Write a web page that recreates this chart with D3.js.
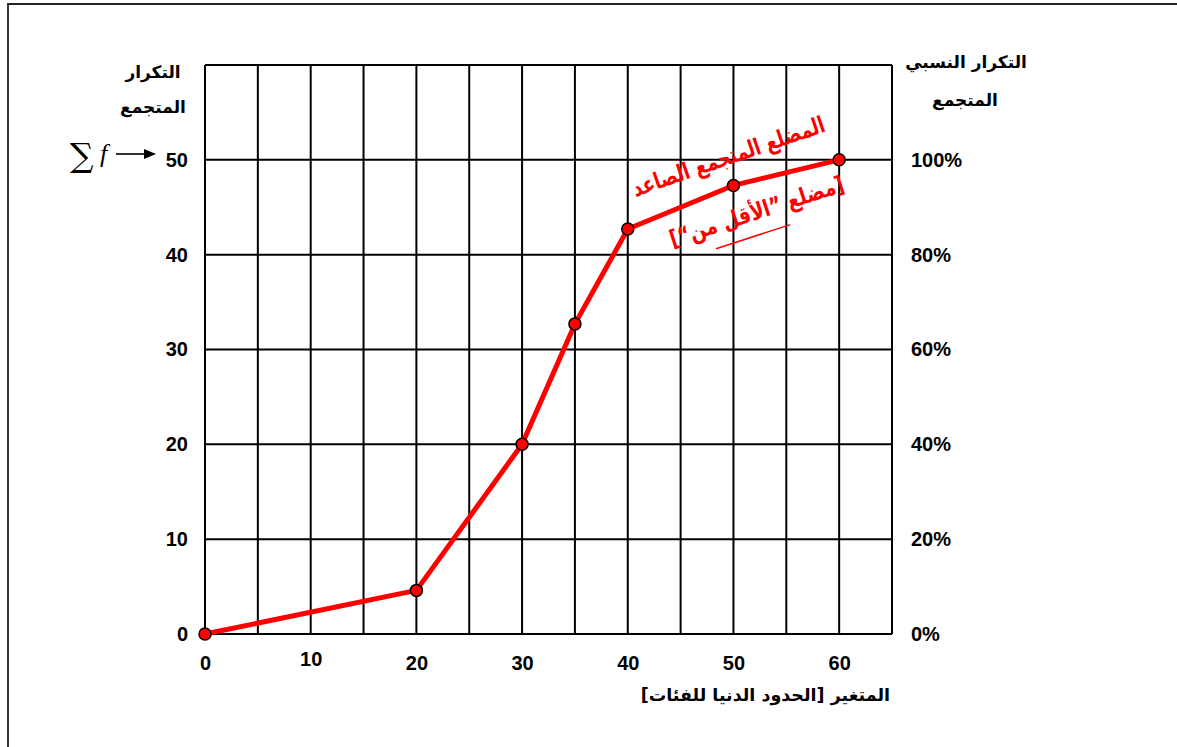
<!DOCTYPE html>
<html>
<head>
<meta charset="utf-8">
<script src="https://cdn.jsdelivr.net/npm/d3@7"></script>
<style>
  html, body { margin: 0; padding: 0; background: #fff; }
  svg { display: block; }
</style>
</head>
<body>
<svg id="chart" width="1177" height="747"></svg>
<script>
// ---- data ----
const lowerBounds = [0, 20, 30, 35, 40, 50, 60];          // x: lower class bounds
const cumFrequency = [0, 4.6, 20, 32.7, 42.7, 47.3, 50];   // y: cumulative frequency
const xTickLabels = [0, 10, 20, 30, 40, 50, 60];
const yTickLabels = [0, 10, 20, 30, 40, 50];
const pctTickLabels = [0, 20, 40, 60, 80, 100];
const totalF = 50;
const leftTitle = ["التكرار", "المتجمع"];
const rightTitle = ["التكرار النسبي", "المتجمع"];
const xTitle = "المتغير [الحدود الدنيا للفئات]";
const curveTitle = "المضلع المتجمع الصاعد";
const curveSubtitle = "[مضلع ”الأقل من“]";

const svg = d3.select("#chart");
const W = 1177, H = 747;

const x = d3.scaleLinear().domain([0, 65]).range([205, 892]);
const y = d3.scaleLinear().domain([0, 60]).range([634, 65]);
const pct = d3.scaleLinear().domain([0, 100]).range([y(0), y(totalF)]);

// outer frame (top + left visible)
svg.append("path")
  .attr("d", `M8,${H + 2} V4 H${W + 2}`)
  .attr("fill", "none").attr("stroke", "#222").attr("stroke-width", 1.8);

// grid
const grid = svg.append("g").attr("stroke", "#000").attr("stroke-width", 2);
grid.selectAll("line.v").data(d3.range(0, 66, 5)).join("line")
  .attr("class", "v")
  .attr("x1", d => x(d)).attr("x2", d => x(d))
  .attr("y1", y(60)).attr("y2", y(0));
grid.selectAll("line.h").data(d3.range(0, 61, 10)).join("line")
  .attr("class", "h")
  .attr("x1", x(0)).attr("x2", x(65))
  .attr("y1", d => y(d)).attr("y2", d => y(d));

const numFont = "'Liberation Sans', Arial, sans-serif";
const arFont = "'DejaVu Sans', sans-serif";

// left axis labels
const leftAxis = d3.axisLeft(y).tickValues(yTickLabels).tickSize(0).tickPadding(17);
const gl = svg.append("g").attr("transform", `translate(${x(0)},0)`).call(leftAxis);
gl.select(".domain").remove();
gl.selectAll("text").attr("font-family", numFont).attr("font-size", 20)
  .attr("font-weight", "bold").attr("fill", "#000");

// right axis labels (percent)
const rightAxis = d3.axisRight(pct).tickValues(pctTickLabels)
  .tickSize(0).tickPadding(19).tickFormat(d => d + "%");
const gr = svg.append("g").attr("transform", `translate(${x(65)},0)`).call(rightAxis);
gr.select(".domain").remove();
gr.selectAll("text").attr("font-family", numFont).attr("font-size", 20)
  .attr("font-weight", "bold").attr("fill", "#000");

// bottom axis labels
const bottomAxis = d3.axisBottom(x).tickValues(xTickLabels).tickSize(0).tickPadding(22);
const gb = svg.append("g").attr("transform", `translate(0,${y(0)})`).call(bottomAxis);
gb.select(".domain").remove();
gb.selectAll("text").attr("font-family", numFont).attr("font-size", 20)
  .attr("font-weight", "bold").attr("fill", "#000")
  .attr("dy", d => d === 10 ? "0.48em" : "0.71em");

// titles
const titles = svg.append("g").attr("font-family", arFont).attr("font-weight", "bold")
  .attr("font-size", 17).attr("fill", "#000").attr("text-anchor", "middle")
  .attr("direction", "rtl");
titles.selectAll("text.lt").data(leftTitle).join("text").attr("class", "lt")
  .attr("x", 153).attr("y", (d, i) => 78 + i * 35).text(d => d);
titles.selectAll("text.rt").data(rightTitle).join("text").attr("class", "rt")
  .attr("x", (d, i) => i ? 965 : 966).attr("y", (d, i) => 68 + i * 38).text(d => d);
titles.append("text").attr("x", 890).attr("y", 701).attr("text-anchor", "start")
  .attr("font-size", 17.5).text(xTitle);

// ∑f →
const sig = svg.append("g");
sig.append("text").attr("x", 70).attr("y", 167).attr("font-family", "'DejaVu Serif', serif")
  .attr("font-size", 33).text("∑");
sig.append("text").attr("x", 100).attr("y", 162).attr("font-family", "'Liberation Serif', serif")
  .attr("font-style", "italic").attr("font-size", 26).text("f");
sig.append("line").attr("x1", 116).attr("x2", 146).attr("y1", 154).attr("y2", 154)
  .attr("stroke", "#000").attr("stroke-width", 1.6);
sig.append("path").attr("d", "M144,149 L156,154 L144,159 Z").attr("fill", "#000");

// polygon line
const pts = lowerBounds.map((v, i) => [v, cumFrequency[i]]);
svg.append("path").datum(pts)
  .attr("d", d3.line().x(d => x(d[0])).y(d => y(d[1])))
  .attr("fill", "none").attr("stroke", "#ff0000").attr("stroke-width", 5)
  .attr("stroke-linejoin", "round");
svg.selectAll("circle.pt").data(pts).join("circle").attr("class", "pt")
  .attr("cx", d => x(d[0])).attr("cy", d => y(d[1])).attr("r", 6)
  .attr("fill", "#ff0000").attr("stroke", "#000").attr("stroke-width", 1.5);

// red annotation
const ann = svg.append("g").attr("fill", "#ff0000").attr("font-family", arFont)
  .attr("font-weight", "bold").attr("direction", "rtl").attr("text-anchor", "middle");
ann.append("text").attr("transform", "translate(731,164) rotate(-19)")
  .attr("font-size", 23).attr("textLength", 202).attr("lengthAdjust", "spacingAndGlyphs")
  .text(curveTitle);
const g2 = ann.append("g").attr("transform", "translate(759,219) rotate(-18)");
g2.append("text").attr("font-size", 23).attr("textLength", 182).attr("lengthAdjust", "spacingAndGlyphs")
  .text(curveSubtitle);
g2.append("line").attr("x1", -50).attr("x2", 28).attr("y1", 15).attr("y2", 15)
  .attr("stroke", "#ff0000").attr("stroke-width", 1.5);
</script>
</body>
</html>
